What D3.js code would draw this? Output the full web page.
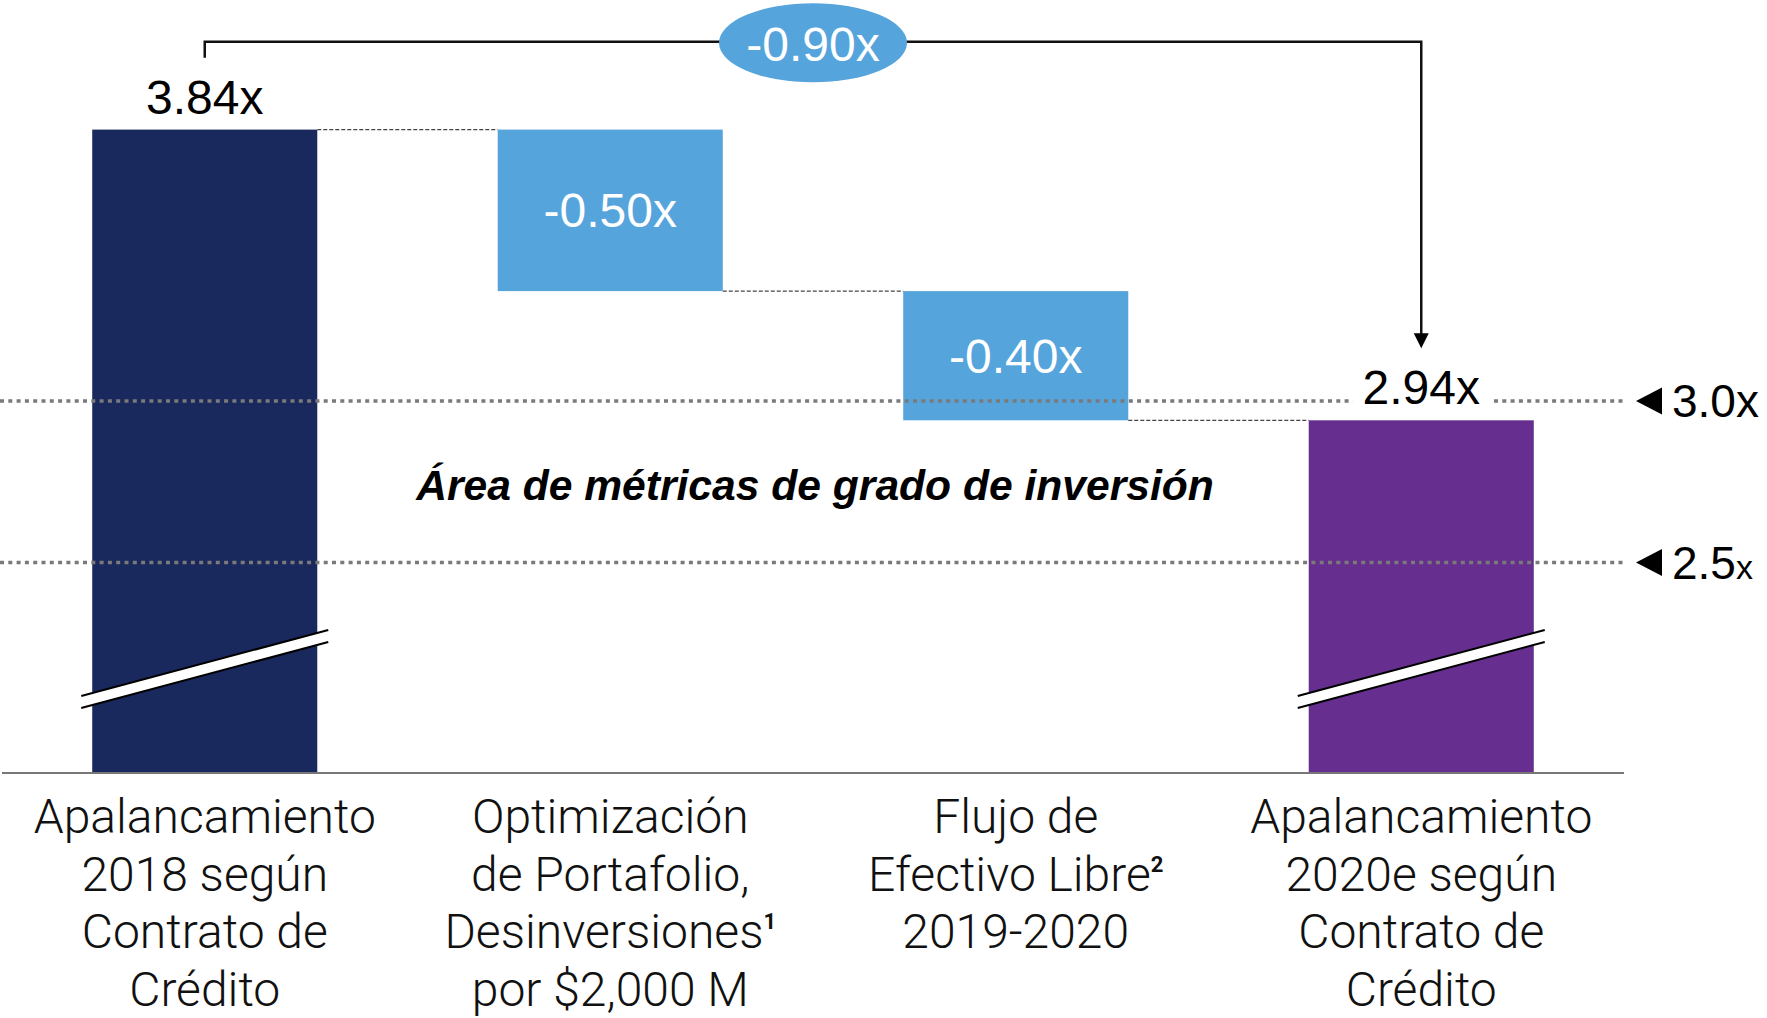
<!DOCTYPE html>
<html>
<head>
<meta charset="utf-8">
<script src="https://cdn.jsdelivr.net/npm/d3@7"></script>
<style>
  body { margin: 0; background: #fff; }
  .num { font-family: "Liberation Sans", Arial, sans-serif; }
  .cat { font-family: Roboto, "Noto Sans", sans-serif; font-weight: 300; }
</style>
</head>
<body>
<svg id="chart" width="1767" height="1018"></svg>
<script>
// data
var categories = ["inicio", "portafolio", "flujo", "final"];
var catLines = [
    ["Apalancamiento", "2018 según", "Contrato de", "Crédito"],
    ["Optimización", "de Portafolio,", ["Desinversiones", "1"], "por $2,000 M"],
    ["Flujo de", ["Efectivo Libre", "2"], "2019-2020"],
    ["Apalancamiento", "2020e según", "Contrato de", "Crédito"]
];
var stepValues = [3.84, -0.50, -0.40, 2.94];
var stepKinds = ["total", "delta", "delta", "total"];
var totalChange = -0.90;
var refValues = [3.0, 2.5];
var refLabels = [["3.0x", ""], ["2.5", "x"]];
var areaLabel = "Área de métricas de grado de inversión";

var colors = { first: "#1a295d", delta: "#56a4dc", last: "#662f8f" };

var svg = d3.select("svg"),
    width = +svg.attr("width"),
    axisY = 773;

var x = d3.scaleBand()
    .domain(categories)
    .range([2, 1624])
    .paddingInner(0.445)
    .paddingOuter(0.2225);

// broken axis: scale fitted to the visible part
var y = d3.scaleLinear()
    .domain([2.94, 3.84])
    .range([420.3, 129.6]);

// running waterfall
var bars = [], level = 0;
stepValues.forEach(function(v, i) {
    var b = { cat: categories[i], kind: stepKinds[i], value: v };
    if (stepKinds[i] == "total") {
        b.top = v; b.bottom = null; level = v;
    } else {
        b.top = level; b.bottom = level + v; level = level + v;
    }
    bars.push(b);
});

var fmt = function(v) { return (v < 0 ? "-" : "") + d3.format(".2f")(Math.abs(v)) + "x"; };

var g = svg.append("g");

// bars
g.selectAll(".bar")
    .data(bars)
    .enter()
    .append("rect")
        .attr("class", "bar")
        .attr("x", function(d) { return x(d.cat); })
        .attr("width", x.bandwidth())
        .attr("y", function(d) { return y(d.top); })
        .attr("height", function(d) {
            var yb = d.bottom === null ? axisY : y(d.bottom);
            return yb - y(d.top);
        })
        .attr("fill", function(d, i) {
            if (d.kind == "delta") return colors.delta;
            return i == 0 ? colors.first : colors.last;
        });

// connectors
for (var i = 0; i < bars.length - 1; i++) {
    var lv = bars[i].bottom === null ? bars[i].top : bars[i].bottom;
    g.append("line")
        .attr("x1", x(bars[i].cat) + x.bandwidth())
        .attr("x2", x(bars[i + 1].cat))
        .attr("y1", y(lv)).attr("y2", y(lv))
        .attr("stroke", "#444")
        .attr("stroke-width", 1.3)
        .attr("stroke-dasharray", "4,2");
}

// axis break marks on total bars
bars.filter(function(d) { return d.kind == "total"; }).forEach(function(d) {
    var x0 = x(d.cat) - 11, x1 = x(d.cat) + x.bandwidth() + 11;
    var yl = axisY - 77, yr = axisY - 143, gap = 12;
    g.append("polygon")
        .attr("points", [[x0, yl], [x1, yr], [x1, yr + gap], [x0, yl + gap]].join(" "))
        .attr("fill", "#fff");
    [0, gap].forEach(function(o) {
        g.append("line")
            .attr("x1", x0).attr("y1", yl + o)
            .attr("x2", x1).attr("y2", yr + o)
            .attr("stroke", "#000")
            .attr("stroke-width", 2);
    });
});

// reference lines
var refG = g.append("g");
refValues.forEach(function(v, i) {
    refG.append("line")
        .attr("x1", 0).attr("x2", 1624)
        .attr("y1", y(v)).attr("y2", y(v))
        .attr("stroke", "#7a7a7a")
        .attr("stroke-width", 3.5)
        .attr("stroke-dasharray", "4,4.3");
    refG.append("path")
        .attr("d", "M1636," + y(v) + "L1662," + (y(v) - 13.5) + "L1662," + (y(v) + 13.5) + "Z")
        .attr("fill", "#000");
    var t = refG.append("text")
        .attr("class", "num")
        .attr("x", 1672)
        .attr("y", y(v) + 16.5)
        .attr("font-size", 46)
        .attr("fill", "#000");
    t.append("tspan").text(refLabels[i][0]);
    if (refLabels[i][1]) t.append("tspan").attr("font-size", 34).text(refLabels[i][1]);
});

// axis baseline
g.append("line")
    .attr("x1", 2).attr("x2", 1624)
    .attr("y1", axisY).attr("y2", axisY)
    .attr("stroke", "#777")
    .attr("stroke-width", 2);

// value labels
bars.forEach(function(d, i) {
    var cx = x(d.cat) + x.bandwidth() / 2;
    if (d.kind == "total") {
        var t = g.append("text")
            .attr("class", "num")
            .attr("x", cx)
            .attr("y", y(d.top) - 16)
            .attr("text-anchor", "middle")
            .attr("font-size", 48)
            .attr("fill", "#000")
            .text(fmt(d.value));
        if (i > 0) {
            var bb = t.node().getBBox();
            g.insert("rect", function() { return t.node(); })
                .attr("x", bb.x - 10).attr("y", bb.y)
                .attr("width", bb.width + 20).attr("height", bb.height)
                .attr("fill", "#fff");
        }
    } else {
        g.append("text")
            .attr("class", "num")
            .attr("x", cx)
            .attr("y", (y(d.top) + y(d.bottom)) / 2 + 17)
            .attr("text-anchor", "middle")
            .attr("font-size", 48)
            .attr("fill", "#fff")
            .text(fmt(d.value));
    }
});

// total change bracket
var xa = x(categories[0]) + x.bandwidth() / 2,
    xb = x(categories[3]) + x.bandwidth() / 2,
    yTop = 41.7,
    yTip = y(stepValues[3]) - 72;
g.append("path")
    .attr("d", "M" + xa + "," + (yTop + 16) + "V" + yTop + "H" + xb + "V" + (yTip - 14))
    .attr("fill", "none")
    .attr("stroke", "#111")
    .attr("stroke-width", 2.5);
g.append("path")
    .attr("d", "M" + (xb - 7.5) + "," + (yTip - 15) + "L" + (xb + 7.5) + "," + (yTip - 15) + "L" + xb + "," + yTip + "Z")
    .attr("fill", "#000");
var mx = (xa + xb) / 2;
g.append("ellipse")
    .attr("cx", mx).attr("cy", 42.8)
    .attr("rx", 94).attr("ry", 39.5)
    .attr("fill", colors.delta);
g.append("text")
    .attr("class", "num")
    .attr("x", mx)
    .attr("y", 60.5)
    .attr("text-anchor", "middle")
    .attr("font-size", 48)
    .attr("fill", "#fff")
    .text(fmt(totalChange));

// investment grade area label
g.append("text")
    .attr("class", "num")
    .attr("x", 815)
    .attr("y", 500)
    .attr("text-anchor", "middle")
    .attr("font-size", 42.6)
    .attr("font-weight", "bold")
    .attr("font-style", "italic")
    .attr("fill", "#000")
    .text(areaLabel);

// category labels
catLines.forEach(function(lines, i) {
    var t = g.append("text")
        .attr("class", "cat")
        .attr("text-anchor", "middle")
        .attr("font-size", 48)
        .attr("fill", "#111");
    lines.forEach(function(line, j) {
        var ts = t.append("tspan")
            .attr("x", x(categories[i]) + x.bandwidth() / 2)
            .attr("y", 833 + j * 57.7);
        if (typeof line == "string") {
            ts.text(line);
        } else {
            ts.text(line[0]);
            t.append("tspan")
                .attr("dy", -19)
                .attr("font-size", 22)
                .attr("font-weight", 700)
                .text(line[1]);
        }
    });
});
</script>
</body>
</html>
